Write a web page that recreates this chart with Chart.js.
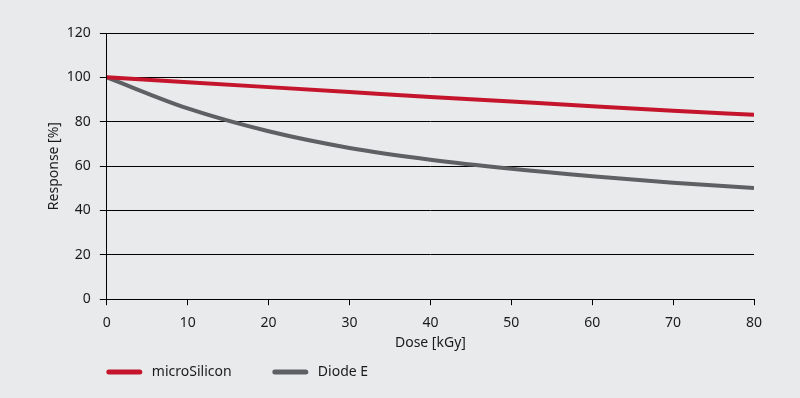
<!DOCTYPE html>
<html>
<head>
<meta charset="utf-8">
<script src="https://cdn.jsdelivr.net/npm/chart.js@4"></script>
<style>
  html, body { margin: 0; padding: 0; background: #e8eaec; }
  canvas { display: block; }
</style>
</head>
<body>
<canvas id="chart" width="800" height="398"></canvas>
<script>
// ==================
// Data
// ==================
const doses = [0, 10, 20, 30, 40, 50, 60, 70, 80];
const microSilicon = [100, 97.8, 95.6, 93.4, 91.2, 89.1, 87.0, 85.0, 83.1];
const diodeE = [100, 86.0, 75.7, 68.2, 62.9, 58.8, 55.4, 52.5, 50.1];
const yTicks = [0, 20, 40, 60, 80, 100, 120];
const xTicks = [0, 10, 20, 30, 40, 50, 60, 70, 80];

const seriesNames = ["microSilicon", "Diode E"];
const seriesColors = ["#c4152c", "#5f6064"];

const toPoints = vals => vals.map((v, i) => ({x: doses[i], y: v}));

// legend drawn under the plot, lined up with the y axis
const bottomLegend = {
  id: "bottomLegend",
  afterDraw(chart) {
    const ctx = chart.ctx;
    const y = 372;
    let x = chart.chartArea.left;
    ctx.save();
    ctx.font = "14px 'Noto Sans'";
    ctx.textBaseline = "middle";
    chart.data.datasets.forEach(ds => {
      ctx.strokeStyle = ds.borderColor;
      ctx.lineWidth = 5;
      ctx.lineCap = "round";
      ctx.beginPath();
      ctx.moveTo(x + 2, y);
      ctx.lineTo(x + 33, y);
      ctx.stroke();
      ctx.fillStyle = "#1a1a1a";
      ctx.fillText(ds.label, x + 45, y);
      x += 166;
    });
    ctx.restore();
  }
};

const ctx = document.getElementById("chart").getContext("2d");
new Chart(ctx, {
  type: "line",
  data: {
    datasets: [
      {
        label: seriesNames[0],
        data: toPoints(microSilicon),
        borderColor: seriesColors[0],
        backgroundColor: seriesColors[0],
        borderWidth: 4,
        pointRadius: 0,
        cubicInterpolationMode: "monotone"
      },
      {
        label: seriesNames[1],
        data: toPoints(diodeE),
        borderColor: seriesColors[1],
        backgroundColor: seriesColors[1],
        borderWidth: 4,
        pointRadius: 0,
        cubicInterpolationMode: "monotone"
      }
    ]
  },
  options: {
    responsive: false,
    animation: false,
    layout: { padding: { left: 46, right: 46, top: 33, bottom: 48 } },
    plugins: {
      legend: { display: false },
      tooltip: { enabled: false }
    },
    scales: {
      x: {
        type: "linear",
        min: 0,
        max: 80,
        afterBuildTicks: axis => { axis.ticks = xTicks.map(v => ({value: v})); },
        grid: { drawOnChartArea: false, drawTicks: true, tickLength: 6, color: "#000", lineWidth: 1 },
        border: { display: true, color: "#000", width: 1 },
        ticks: { color: "#1a1a1a", font: { family: "Noto Sans", size: 14 }, padding: 9, maxRotation: 0 },
        title: { display: true, text: "Dose [kGy]", color: "#1a1a1a", font: { family: "Noto Sans", size: 14, lineHeight: 1 }, padding: { top: -4, bottom: 0 } }
      },
      y: {
        min: 0,
        max: 120,
        afterBuildTicks: axis => { axis.ticks = yTicks.map(v => ({value: v})); },
        grid: { color: "#000", lineWidth: 1, tickLength: 7 },
        border: { display: true, color: "#000", width: 1 },
        ticks: { color: "#1a1a1a", font: { family: "Noto Sans", size: 14 }, padding: 9 },
        title: { display: true, text: "Response [%]", color: "#1a1a1a", font: { family: "Noto Sans", size: 14 }, padding: { top: 0, bottom: -5 } }
      }
    }
  },
  plugins: [bottomLegend]
});
</script>
</body>
</html>
